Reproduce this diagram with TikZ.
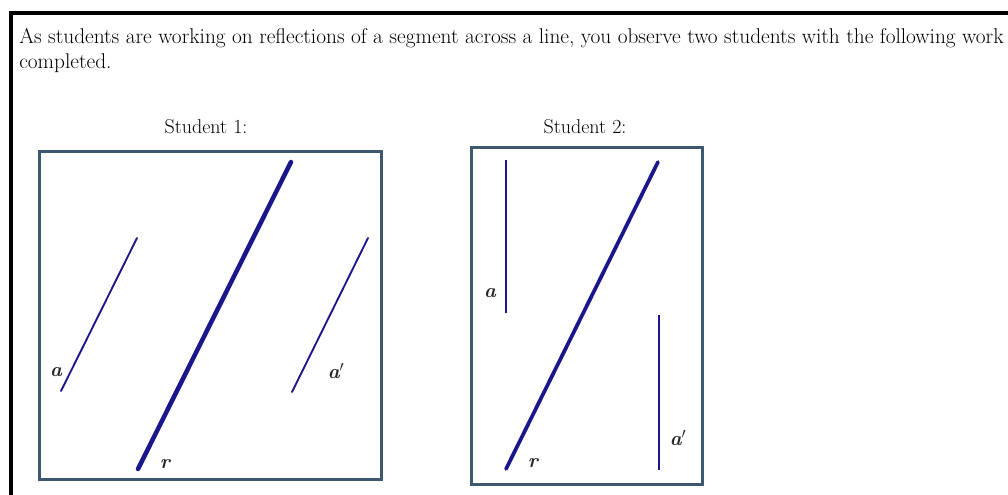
\documentclass[tikz,border=0pt]{standalone}
\definecolor{framecol}{RGB}{62,88,112}
\definecolor{segcol}{RGB}{28,22,140}
\begin{document}
\begin{tikzpicture}[x=0.75pt,y=-0.75pt,
  frame/.style={draw=framecol,line width=2.2pt},
  seg/.style={draw=segcol,line width=1.4pt,line cap=round},
  refl/.style={draw=segcol,line width=3.4pt,line cap=round},
  vseg/.style={draw=segcol,line width=2.2pt},
  lab/.style={font=\fontsize{15}{17}\selectfont\bfseries\itshape,text=black!85},
  body/.style={font=\fontsize{16}{19}\selectfont,anchor=base west,inner sep=0pt,text=black},
  head/.style={font=\fontsize{15}{18}\selectfont,anchor=base,inner sep=0pt,text=black}]
\useasboundingbox (0,0) rectangle (1008,494);
% outer frame (cut off at right and bottom)
\coordinate (ftl) at (11,13);
\coordinate (ftr) at (1010,13);
\coordinate (fbl) at (11,496);
\draw[line width=2.4pt,black] (ftr) -- (ftl) -- (fbl);
% text
\node[body] (t1) at (19,43) {As students are working on reflections of a segment across a line, you observe two students with the following work};
\node[body] (t2) at (19,68) {completed.};
\node[head] (s1) at (206,133) {Student 1:};
\node[head] (s2) at (585,133) {Student 2:};
% box 1
\node[frame,minimum width=342*0.75pt,minimum height=328*0.75pt,inner sep=0pt,anchor=north west] (b1) at (38,150) {};
\coordinate (a1s) at (61,391); \coordinate (a1e) at (137,238);
\coordinate (r1s) at (138,469); \coordinate (r1e) at (291,162);
\coordinate (p1s) at (292,392); \coordinate (p1e) at (368,238);
\draw[seg] (a1s) -- (a1e);
\draw[refl] (r1s) -- (r1e);
\draw[seg] (p1s) -- (p1e);
\node[lab] (la1) at (56,372) {a};
\node[lab] (lp1) at (336,371) {a$'$};
\node[lab] (lr1) at (165,464) {r};
% box 2
\node[frame,minimum width=231*0.75pt,minimum height=337*0.75pt,inner sep=0pt,anchor=north west] (b2) at (470,146) {};
\coordinate (a2s) at (506,160); \coordinate (a2e) at (506,313);
\coordinate (r2s) at (506,469); \coordinate (r2e) at (658,162);
\coordinate (p2s) at (659,315); \coordinate (p2e) at (659,470);
\draw[vseg] (a2s) -- (a2e);
\draw[refl,line width=2.8pt] (r2s) -- (r2e);
\draw[vseg,line width=1.7pt] (p2s) -- (p2e);
\node[lab] (la2) at (490,293) {a};
\node[lab] (lp2) at (678,438) {a$'$};
\node[lab] (lr2) at (533,463) {r};
\end{tikzpicture}
\end{document}
